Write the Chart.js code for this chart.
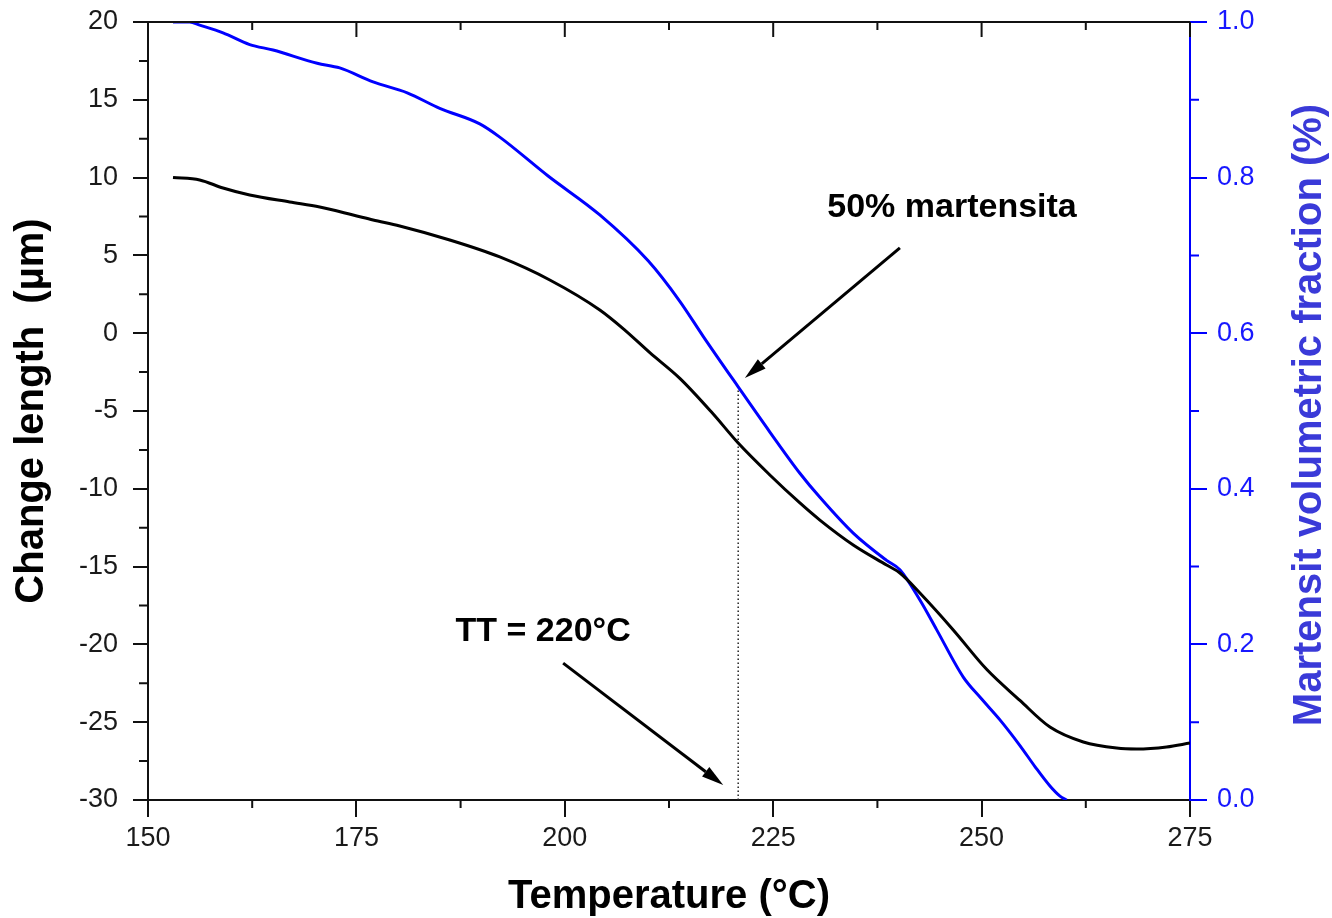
<!DOCTYPE html>
<html>
<head>
<meta charset="utf-8">
<title>Dilatometry – martensite fraction</title>
<script src="https://cdn.jsdelivr.net/npm/chart.js@4.4.1/dist/chart.umd.min.js"></script>
<style>
  html, body { margin: 0; padding: 0; background: #fff; }
  #wrap { width: 1332px; height: 918px; }
</style>
</head>
<body>
<div id="wrap"><canvas id="chart" width="1332" height="918"></canvas></div>
<script>
// change in length (µm) against temperature (°C)
const lengthTemp = [153.0, 156.2, 159.0, 162.2, 167.0, 170.6, 174.6, 177.0, 180.2, 186.2, 192.2, 198.2,
  204.2, 207.2, 210.2, 213.8, 217.7, 220.8, 224.6, 228.2, 230.6, 234.6, 238.6, 240.2, 242.6, 246.6,
  250.6, 254.6, 258.2, 262.2, 266.2, 268.6, 272.2, 275.0];
const lengthValues = [10.0, 9.85, 9.33, 8.88, 8.43, 8.11, 7.6, 7.28, 6.89, 5.99, 4.9, 3.42,
  1.49, 0.2, -1.25, -2.9, -5.13, -7.06, -9.11, -10.91, -12.01, -13.61, -14.9, -15.41, -16.7, -19.07,
  -21.6, -23.6, -25.31, -26.27, -26.66, -26.72, -26.59, -26.34];

// martensite volume fraction against temperature (°C)
const fractionTemp = [153.0, 155.0, 156.2, 159.0, 162.2, 165.0, 170.3, 173.0, 177.0, 181.1, 185.0, 189.8,
  192.2, 198.0, 204.2, 210.0, 213.8, 216.6, 220.8, 224.6, 228.2, 230.6, 234.6, 238.6, 240.2, 242.6,
  244.6, 247.8, 249.9, 252.2, 254.6, 256.4, 258.2, 259.4, 260.2];
const fractionValues = [1.0, 1.0, 0.996, 0.986, 0.971, 0.964, 0.947, 0.941, 0.923, 0.909, 0.889, 0.869,
  0.852, 0.802, 0.752, 0.693, 0.641, 0.596, 0.531, 0.473, 0.42, 0.389, 0.343, 0.308, 0.296, 0.257,
  0.219, 0.158, 0.131, 0.103, 0.07, 0.043, 0.018, 0.005, 0.0];

// TT marker: temperature where the dotted drop line sits
const markerTemp = 220.8;
const markerFraction = fractionValues[fractionTemp.indexOf(markerTemp)];

const FONT = '"Liberation Sans", Arial, sans-serif';
const BLUE = '#0000ff';

// annotation texts and arrows, in data units of the x / left y axes
const notes = [
  { text: '50% martensita', x: 246.45, y: 8.1 },
  { text: 'TT = 220°C', x: 197.4, y: -19.2 },
];
const arrows = [
  { from: [240.2, 5.48], to: [221.6, -2.88] },
  { from: [199.8, -21.2], to: [219.0, -29.04] },
];

function toPoints(xs, ys) {
  return xs.map((t, i) => ({ x: t, y: ys[i] }));
}

function drawArrow(ctx, x0, y0, x1, y1) {
  const ang = Math.atan2(y1 - y0, x1 - x0);
  const head = 22;
  const half = 6;
  const bx = x1 - head * Math.cos(ang);
  const by = y1 - head * Math.sin(ang);
  ctx.beginPath();
  ctx.moveTo(x0, y0);
  ctx.lineTo(bx, by);
  ctx.stroke();
  ctx.beginPath();
  ctx.moveTo(x1, y1);
  ctx.lineTo(bx + half * Math.sin(ang), by - half * Math.cos(ang));
  ctx.lineTo(bx - half * Math.sin(ang), by + half * Math.cos(ang));
  ctx.closePath();
  ctx.fill();
}

function minorValues(scale) {
  const out = [];
  for (let i = 0; i < scale.ticks.length - 1; i++) {
    out.push((scale.ticks[i].value + scale.ticks[i + 1].value) / 2);
  }
  return out;
}

// keep tick label overhang from pushing the plot area around
function fixBox(size) {
  return (s) => {
    if (s.isHorizontal()) s.height = size;
    else s.width = size;
    s.paddingTop = 0;
    s.paddingBottom = 0;
  };
}

const extrasPlugin = {
  id: 'extras',
  afterDraw(chart) {
    const { ctx, chartArea: area, scales } = chart;
    const { x, y, y1 } = scales;
    ctx.save();
    ctx.lineWidth = 2;

    // top frame with inward ticks
    ctx.strokeStyle = '#111';
    ctx.beginPath();
    ctx.moveTo(area.left - 1, area.top);
    ctx.lineTo(area.right, area.top);
    x.ticks.forEach((t) => {
      const px = x.getPixelForValue(t.value);
      ctx.moveTo(px, area.top);
      ctx.lineTo(px, area.top + 15);
    });
    minorValues(x).forEach((v) => {
      const px = x.getPixelForValue(v);
      ctx.moveTo(px, area.top);
      ctx.lineTo(px, area.top + 8);
      // bottom minor ticks point outward
      ctx.moveTo(px, area.bottom);
      ctx.lineTo(px, area.bottom + 8);
    });
    minorValues(y).forEach((v) => {
      const py = y.getPixelForValue(v);
      ctx.moveTo(area.left, py);
      ctx.lineTo(area.left - 9, py);
    });
    ctx.stroke();

    ctx.strokeStyle = BLUE;
    ctx.beginPath();
    minorValues(y1).forEach((v) => {
      const py = y1.getPixelForValue(v);
      ctx.moveTo(area.right, py);
      ctx.lineTo(area.right + 9, py);
    });
    ctx.stroke();

    // right axis title, reading bottom to top
    ctx.save();
    ctx.translate(1310, (area.top + area.bottom) / 2 + 4);
    ctx.rotate(-Math.PI / 2);
    ctx.fillStyle = '#3a3ad8';
    ctx.font = `bold 40px ${FONT}`;
    ctx.textAlign = 'center';
    ctx.textBaseline = 'middle';
    ctx.fillText('Martensit volumetric fraction (%)', 0, 0);
    ctx.restore();

    // arrows and notes
    ctx.strokeStyle = '#000';
    ctx.fillStyle = '#000';
    ctx.lineWidth = 3;
    arrows.forEach((a) => {
      drawArrow(ctx,
        x.getPixelForValue(a.from[0]), y.getPixelForValue(a.from[1]),
        x.getPixelForValue(a.to[0]), y.getPixelForValue(a.to[1]));
    });
    ctx.font = `bold 34px ${FONT}`;
    ctx.textAlign = 'center';
    ctx.textBaseline = 'middle';
    notes.forEach((n) => {
      ctx.fillText(n.text, x.getPixelForValue(n.x), y.getPixelForValue(n.y));
    });
    ctx.restore();
  },
};

new Chart(document.getElementById('chart'), {
  type: 'line',
  data: {
    datasets: [
      {
        label: 'Change length',
        data: toPoints(lengthTemp, lengthValues),
        yAxisID: 'y',
        borderColor: '#000',
        borderWidth: 3,
        pointRadius: 0,
        cubicInterpolationMode: 'monotone',
      },
      {
        label: 'Martensite fraction',
        data: toPoints(fractionTemp, fractionValues),
        yAxisID: 'y1',
        borderColor: BLUE,
        borderWidth: 3,
        pointRadius: 0,
        cubicInterpolationMode: 'monotone',
      },
      {
        label: 'TT',
        data: [{ x: markerTemp, y: 0 }, { x: markerTemp, y: markerFraction }],
        yAxisID: 'y1',
        borderColor: '#222',
        borderWidth: 1.5,
        borderDash: [1.5, 2.5],
        pointRadius: 0,
      },
    ],
  },
  options: {
    responsive: false,
    animation: false,
    layout: { padding: { top: 22, left: 0, right: 0, bottom: 0 } },
    plugins: {
      legend: { display: false },
      tooltip: { enabled: false },
    },
    scales: {
      x: {
        type: 'linear',
        min: 150,
        max: 275,
        ticks: {
          stepSize: 25,
          color: '#1a1a1a',
          font: { family: FONT, size: 27 },
          padding: 5,
          maxRotation: 0,
        },
        grid: { drawOnChartArea: false, tickLength: 17, lineWidth: 2, color: '#111' },
        border: { color: '#111', width: 2 },
        title: {
          display: true,
          text: 'Temperature (°C)',
          color: '#000',
          font: { family: FONT, size: 40, weight: 'bold', lineHeight: 1.05 },
          padding: { top: 0, bottom: 0 },
        },
        afterFit: fixBox(118),
      },
      y: {
        position: 'left',
        min: -30,
        max: 20,
        ticks: {
          stepSize: 5,
          color: '#1a1a1a',
          font: { family: FONT, size: 27 },
          padding: 15,
        },
        grid: { drawOnChartArea: false, tickLength: 15, lineWidth: 2, color: '#111' },
        border: { color: '#111', width: 2 },
        title: {
          display: true,
          text: 'Change length  (µm)',
          color: '#000',
          font: { family: FONT, size: 40, weight: 'bold' },
          padding: { top: 8, bottom: 0 },
        },
        afterFit: fixBox(148),
      },
      y1: {
        position: 'right',
        min: 0,
        max: 1,
        ticks: {
          stepSize: 0.2,
          color: '#1818ff',
          font: { family: FONT, size: 27 },
          padding: 10,
          callback: (v) => v.toFixed(1),
        },
        grid: { drawOnChartArea: false, tickLength: 17, lineWidth: 2, color: BLUE },
        border: { color: BLUE, width: 2 },
        afterFit: fixBox(142),
      },
    },
  },
  plugins: [extrasPlugin],
});
</script>
</body>
</html>
